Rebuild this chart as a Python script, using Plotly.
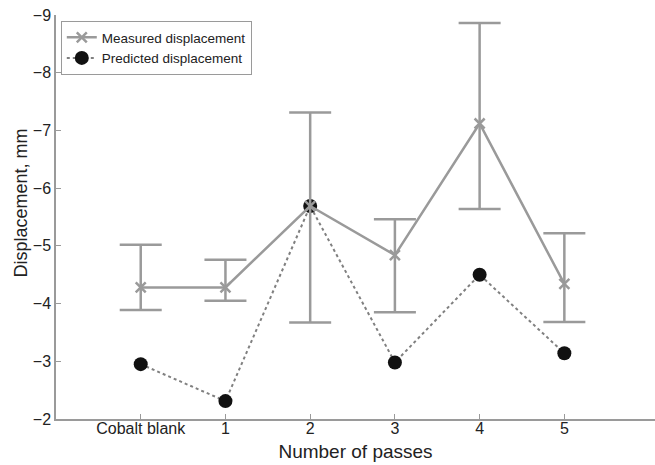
import plotly.graph_objects as go

# Pass categories along the x axis
passes = ["Cobalt blank", "1", "2", "3", "4", "5"]

# Measured displacement (mm) with the ends of its error bars
measured = [-4.28, -4.28, -5.69, -4.84, -7.12, -4.34]
measured_top = [-5.02, -4.76, -7.31, -5.46, -8.86, -5.22]
measured_bottom = [-3.89, -4.05, -3.67, -3.85, -5.64, -3.68]

# Predicted displacement (mm)
predicted = [-2.95, -2.31, -5.69, -2.98, -4.50, -3.14]

y_ticks = [-9, -8, -7, -6, -5, -4, -3, -2]

err_plus = [b - m for b, m in zip(measured_bottom, measured)]
err_minus = [m - t for m, t in zip(measured, measured_top)]

GREY = "#9a9a9a"
FONT = "Liberation Sans, Arial, Helvetica, sans-serif"

fig = go.Figure()

fig.add_trace(go.Scatter(
    x=passes, y=predicted, name="Predicted displacement",
    mode="lines+markers",
    line=dict(color="#808080", width=2, dash="dot"),
    marker=dict(color="#111111", size=14, symbol="circle"),
    legendrank=2,
))

fig.add_trace(go.Scatter(
    x=passes, y=measured, name="Measured displacement",
    mode="lines+markers",
    line=dict(color=GREY, width=2.5),
    marker=dict(color=GREY, size=10, symbol="x-thin",
                line=dict(color=GREY, width=2.5)),
    error_y=dict(type="data", symmetric=False, array=err_plus,
                 arrayminus=err_minus, color=GREY, thickness=2.5, width=21),
    legendrank=1,
))

fig.update_layout(
    width=655, height=465,
    margin=dict(l=56, r=0, t=15, b=46),
    paper_bgcolor="white", plot_bgcolor="white",
    font=dict(family=FONT, size=16, color="#222222"),
    showlegend=True,
    legend=dict(x=0.008, y=0.985, xanchor="left", yanchor="top",
                bgcolor="white", bordercolor=GREY, borderwidth=1,
                font=dict(size=13.5, color="#222222"),
                tracegroupgap=0, itemwidth=30),
    xaxis=dict(
        type="category", categoryorder="array", categoryarray=passes,
        range=[-1, 6.07], showgrid=False, zeroline=False,
        showline=True, linecolor=GREY, linewidth=1.5,
        ticks="inside", ticklen=5, tickcolor=GREY, tickwidth=1,
        ticklabelstandoff=-6,
        title=dict(text="Number of passes", standoff=9),
        automargin=False,
    ),
    yaxis=dict(
        range=[-2, -9], tickvals=y_ticks, showgrid=False, zeroline=False,
        showline=True, linecolor=GREY, linewidth=1.5,
        ticks="inside", ticklen=5, tickcolor=GREY, tickwidth=1,
        automargin=False,
    ),
    annotations=[dict(
        text="Displacement, mm", textangle=-90,
        xref="paper", yref="paper", x=-0.058, y=0.534,
        xanchor="center", yanchor="middle", showarrow=False,
        font=dict(size=18, color="#222222"),
    )],
)

fig.write_html("out.html")
